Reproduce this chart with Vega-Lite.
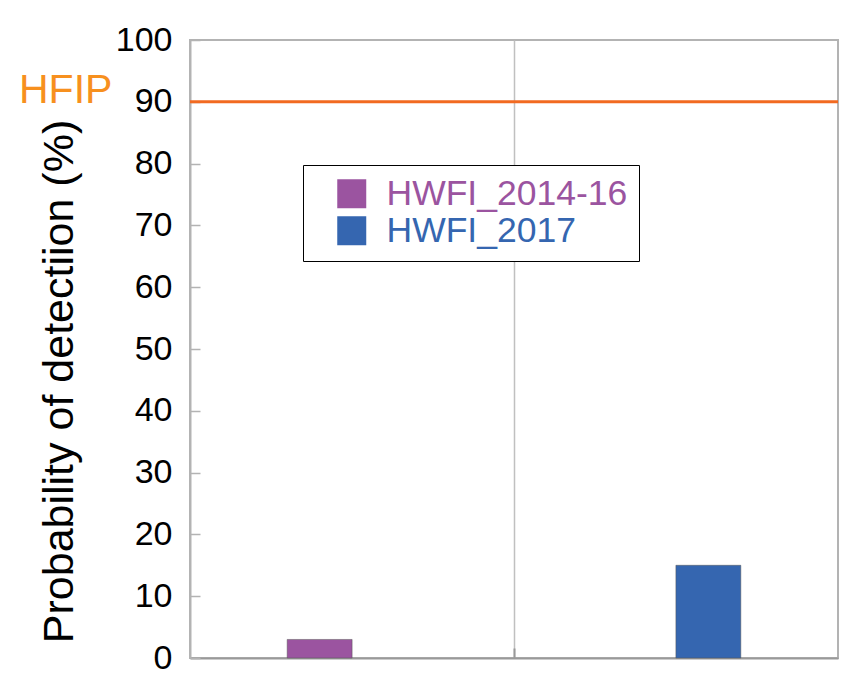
{
  "$schema": "https://vega.github.io/schema/vega-lite/v6.json",
  "width": 648,
  "height": 618,
  "autosize": {"type": "none"},
  "padding": {"left": 190, "top": 40, "right": 15, "bottom": 18},
  "background": "white",
  "config": {
    "font": "Liberation Sans",
    "view": {"stroke": "#b3b3b3", "strokeWidth": 2}
  },
  "layer": [
    {
      "data": {"values": [
        {"g": "all", "series": "HWFI_2014-16", "value": 3},
        {"g": "all", "series": "HWFI_2017", "value": 15}
      ]},
      "mark": {"type": "bar", "stroke": "#555555", "strokeWidth": 1, "strokeOpacity": 0.5},
      "encoding": {
        "x": {
          "field": "g", "type": "nominal",
          "scale": {"paddingInner": 0, "paddingOuter": 0},
          "axis": {"labels": false, "title": null, "grid": true, "gridColor": "#c0c0c0", "gridWidth": 1.5, "tickSize": -10, "tickColor": "#999999", "tickWidth": 2, "domainColor": "#999999", "domainWidth": 2}
        },
        "xOffset": {
          "field": "series", "type": "nominal",
          "scale": {"paddingInner": 0.833, "paddingOuter": 0.25}
        },
        "y": {
          "field": "value", "type": "quantitative",
          "scale": {"domain": [0, 100], "nice": false},
          "axis": {
            "title": "Probability of detectiion (%)",
            "titleFontSize": 43, "titleFontWeight": "normal", "titleColor": "black", "titlePadding": 34, "titleY": 341,
            "labelFontSize": 34, "labelColor": "black", "labelPadding": 28,
            "values": [0, 10, 20, 30, 40, 50, 60, 70, 80, 90, 100],
            "tickSize": -10, "tickColor": "#b3b3b3", "tickWidth": 1.5,
            "domainColor": "#b3b3b3", "domainWidth": 2, "grid": false
          }
        },
        "color": {
          "field": "series", "type": "nominal",
          "scale": {"domain": ["HWFI_2014-16", "HWFI_2017"], "range": ["#9b54a0", "#3566b0"]},
          "legend": {
            "orient": "none", "legendX": 113, "legendY": 125, "title": null, "direction": "vertical",
            "fillColor": "white", "strokeColor": "black", "cornerRadius": 0,
            "padding": 11, "symbolType": "square", "symbolSize": 841, "symbolStrokeWidth": 0, "symbolOffset": 20,
            "labelFontSize": 35.5, "labelOffset": 17, "rowPadding": 0, "labelLimit": 400,
            "labelColor": {"expr": "datum.value === 'HWFI_2014-16' ? '#9b54a0' : '#3566b0'"},
            "encode": {
              "legend": {"update": {"strokeWidth": {"value": 2}}}
            }
          }
        }
      }
    },
    {
      "data": {"values": [{"label": "HFIP", "target": 90}]},
      "layer": [
        {
          "mark": {"type": "rule", "color": "#f26a21", "strokeWidth": 3},
          "encoding": {
            "y": {
              "field": "target", "type": "quantitative",
              "axis": {"orient": "right", "labels": false, "title": null, "tickSize": -10, "tickColor": "#b3b3b3", "tickWidth": 1.5, "domain": false, "grid": false,
                "values": [0, 10, 20, 30, 40, 50, 60, 70, 80, 90, 100]}
            }
          }
        },
        {
          "mark": {"type": "text", "align": "left", "baseline": "alphabetic", "dx": -495, "dy": 1, "fontSize": 41, "color": "#f7901e", "font": "Liberation Sans"},
          "encoding": {
            "y": {"field": "target", "type": "quantitative", "axis": null},
            "x": {"datum": "all", "type": "nominal"},
            "text": {"field": "label"}
          }
        }
      ]
    }
  ],
  "resolve": {"axis": {"y": "independent"}}
}
